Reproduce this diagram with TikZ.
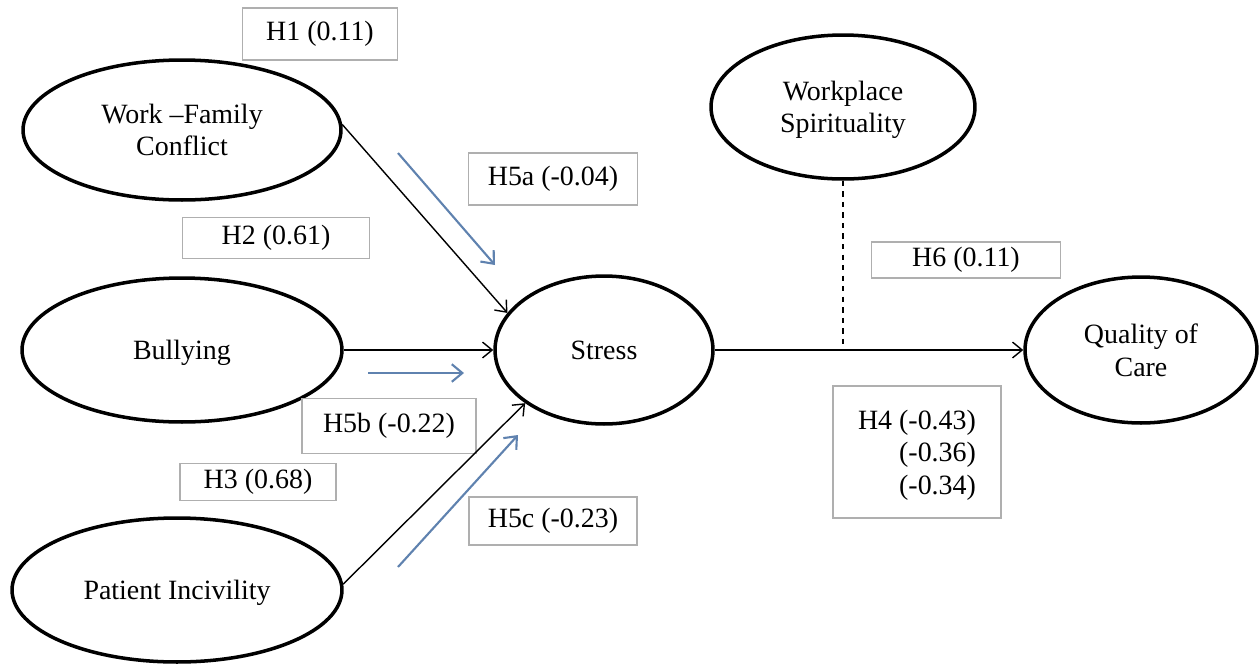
\documentclass[tikz,border=0pt]{standalone}
\usepackage{fontspec}
\setmainfont{Liberation Serif}
\usetikzlibrary{shapes.geometric,arrows.meta}
\definecolor{pathblue}{RGB}{95,130,175}
\definecolor{boxgrey}{RGB}{175,175,175}
\begin{document}
\begin{tikzpicture}[x=0.02cm,y=-0.02cm,
  font=\fontsize{15.9}{18.4}\selectfont,
  construct/.style={ellipse,draw,line width=2pt,inner sep=0pt,align=center,text depth=0pt},
  coef/.style={draw=boxgrey,line width=0.6pt,inner sep=0pt,align=center},
  path/.style={line width=0.8pt,-{Straight Barb[length=5.5pt,width=9pt,line width=0.8pt]}},
  effect/.style={draw=pathblue,line width=1.2pt,-{Straight Barb[length=6pt,width=10pt,line width=1.2pt]}}]
\useasboundingbox (0,0) rectangle (1259,664);

% latent constructs
\node[construct,minimum width=6.36cm,minimum height=2.8cm] (wfc) at (182,130) {Work --Family\\Conflict};
\node[construct,minimum width=6.4cm,minimum height=2.88cm] (bul) at (182,350) {Bullying};
\node[construct,minimum width=6.6cm,minimum height=2.88cm] (pin) at (177,590) {Patient Incivility};
\node[construct,minimum width=4.36cm,minimum height=2.96cm] (str) at (604,350) {Stress};
\node[construct,minimum width=5.28cm,minimum height=2.88cm] (wsp) at (843,107) {Workplace\\Spirituality};
\node[construct,minimum width=4.64cm,minimum height=2.92cm] (qoc) at (1141,350) {Quality of\\Care};

% hypothesis labels
\node[coef,minimum width=3.1cm,minimum height=1.04cm] (h1) at (320,34) {H1 (0.11)};
\node[coef,minimum width=3.38cm,minimum height=1.04cm] (h5a) at (553,179) {H5a (-0.04)};
\node[coef,minimum width=3.74cm,minimum height=0.82cm] (h2) at (276,238) {H2 (0.61)};
\node[coef,minimum width=3.78cm,minimum height=0.72cm] (h6) at (966,260) {H6 (0.11)};
\node[coef,minimum width=3.48cm,minimum height=1.1cm] (h5b) at (389,426) {H5b (-0.22)};
\node[coef,minimum width=3.12cm,minimum height=0.74cm] (h3) at (258,482) {H3 (0.68)};
\node[coef,minimum width=3.36cm,minimum height=0.96cm] (h5c) at (553,521) {H5c (-0.23)};
\node[coef,minimum width=3.36cm,minimum height=2.64cm] (h4) at (917,452) {};
\node[align=right,inner sep=0pt] (h4t) at (917,455) {H4 (-0.43)\\(-0.36)\\(-0.34)};

% structural paths
\draw[path] (wfc.2) -- (str.159);
\draw[path] (bul.east) -- (str.west);
\draw[path] (pin.2) -- (str.214);
\draw[path] (str.east) -- (qoc.west);

% moderation by workplace spirituality
\coordinate (mod) at (wsp.south |- str.east);
\draw[dashed,line width=0.8pt] (wsp.south) -- (mod);

% mediation direction markers
\coordinate (a1) at (398,153); \coordinate (a2) at (495,265);
\coordinate (b1) at (368,373); \coordinate (b2) at (464,373);
\coordinate (c1) at (398,567); \coordinate (c2) at (518,435);
\draw[effect] (a1) -- (a2);
\draw[effect] (b1) -- (b2);
\draw[effect] (c1) -- (c2);
\end{tikzpicture}
\end{document}
